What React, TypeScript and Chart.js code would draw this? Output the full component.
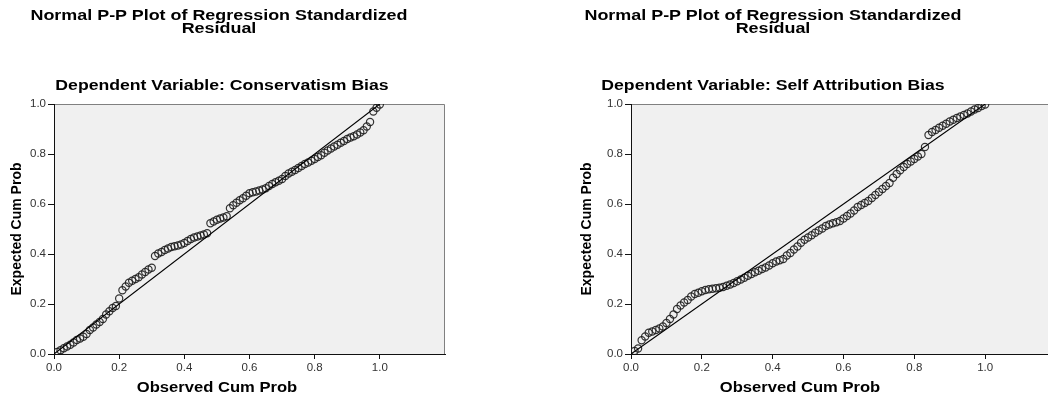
import React, { useEffect, useRef } from 'react';
import { Chart, registerables } from 'chart.js';

Chart.register(...registerables);

const mainTitle = ['Normal P-P Plot of Regression Standardized', 'Residual'];
const subtitleA = 'Dependent Variable: Conservatism Bias';
const subtitleB = 'Dependent Variable: Self Attribution Bias';
const xAxisTitle = 'Observed Cum Prob';
const yAxisTitle = 'Expected Cum Prob';

const xTicks = [0, 0.2, 0.4, 0.6, 0.8, 1.0];
const yTicks = [0, 0.2, 0.4, 0.6, 0.8, 1.0];
const xRange = [0, 1.2];
const yRange = [0, 1.0];
const diagonalX = [0, 1];
const diagonalY = [0, 1];

const observedA = [
  0.01, 0.02, 0.03, 0.04, 0.05, 0.06, 0.07, 0.08, 0.09, 0.10,
  0.11, 0.12, 0.13, 0.14, 0.15, 0.16, 0.17, 0.18, 0.19, 0.20,
  0.21, 0.22, 0.23, 0.24, 0.25, 0.26, 0.27, 0.28, 0.29, 0.30,
  0.31, 0.32, 0.33, 0.34, 0.35, 0.36, 0.37, 0.38, 0.39, 0.40,
  0.41, 0.42, 0.43, 0.44, 0.45, 0.46, 0.47, 0.48, 0.49, 0.50,
  0.51, 0.52, 0.53, 0.54, 0.55, 0.56, 0.57, 0.58, 0.59, 0.60,
  0.61, 0.62, 0.63, 0.64, 0.65, 0.66, 0.67, 0.68, 0.69, 0.70,
  0.71, 0.72, 0.73, 0.74, 0.75, 0.76, 0.77, 0.78, 0.79, 0.80,
  0.81, 0.82, 0.83, 0.84, 0.85, 0.86, 0.87, 0.88, 0.89, 0.90,
  0.91, 0.92, 0.93, 0.94, 0.95, 0.96, 0.97, 0.98, 0.99, 1.00,
];
const expectedA = [
  0.008, 0.015, 0.023, 0.030, 0.037, 0.046, 0.056, 0.062, 0.069, 0.080,
  0.096, 0.106, 0.118, 0.128, 0.140, 0.158, 0.171, 0.184, 0.192, 0.222,
  0.255, 0.270, 0.285, 0.293, 0.300, 0.307, 0.318, 0.328, 0.338, 0.345,
  0.392, 0.402, 0.408, 0.416, 0.422, 0.428, 0.431, 0.434, 0.438, 0.444,
  0.452, 0.460, 0.466, 0.470, 0.474, 0.478, 0.483, 0.523, 0.530, 0.537,
  0.542, 0.546, 0.551, 0.583, 0.595, 0.605, 0.615, 0.623, 0.633, 0.643,
  0.647, 0.650, 0.654, 0.658, 0.663, 0.672, 0.680, 0.687, 0.693, 0.700,
  0.712, 0.722, 0.729, 0.736, 0.744, 0.752, 0.760, 0.766, 0.773, 0.780,
  0.788, 0.795, 0.805, 0.814, 0.822, 0.830, 0.837, 0.845, 0.852, 0.860,
  0.866, 0.871, 0.878, 0.886, 0.895, 0.910, 0.928, 0.970, 0.985, 0.998,
];

const observedB = [
  0.01, 0.02, 0.03, 0.04, 0.05, 0.06, 0.07, 0.08, 0.09, 0.10,
  0.11, 0.12, 0.13, 0.14, 0.15, 0.16, 0.17, 0.18, 0.19, 0.20,
  0.21, 0.22, 0.23, 0.24, 0.25, 0.26, 0.27, 0.28, 0.29, 0.30,
  0.31, 0.32, 0.33, 0.34, 0.35, 0.36, 0.37, 0.38, 0.39, 0.40,
  0.41, 0.42, 0.43, 0.44, 0.45, 0.46, 0.47, 0.48, 0.49, 0.50,
  0.51, 0.52, 0.53, 0.54, 0.55, 0.56, 0.57, 0.58, 0.59, 0.60,
  0.61, 0.62, 0.63, 0.64, 0.65, 0.66, 0.67, 0.68, 0.69, 0.70,
  0.71, 0.72, 0.73, 0.74, 0.75, 0.76, 0.77, 0.78, 0.79, 0.80,
  0.81, 0.82, 0.83, 0.84, 0.85, 0.86, 0.87, 0.88, 0.89, 0.90,
  0.91, 0.92, 0.93, 0.94, 0.95, 0.96, 0.97, 0.98, 0.99, 1.00,
];
const expectedB = [
  0.012, 0.022, 0.055, 0.070, 0.085, 0.090, 0.096, 0.102, 0.110, 0.124,
  0.140, 0.158, 0.180, 0.194, 0.206, 0.216, 0.230, 0.240, 0.245, 0.251,
  0.256, 0.259, 0.261, 0.263, 0.265, 0.268, 0.273, 0.278, 0.284, 0.291,
  0.298, 0.305, 0.313, 0.320, 0.327, 0.333, 0.340, 0.346, 0.354, 0.363,
  0.370, 0.375, 0.380, 0.394, 0.404, 0.418, 0.430, 0.445, 0.457, 0.466,
  0.475, 0.485, 0.494, 0.502, 0.512, 0.518, 0.523, 0.527, 0.532, 0.542,
  0.552, 0.562, 0.574, 0.588, 0.596, 0.604, 0.612, 0.624, 0.636, 0.648,
  0.660, 0.672, 0.684, 0.705, 0.720, 0.735, 0.748, 0.760, 0.770, 0.780,
  0.790, 0.800, 0.828, 0.876, 0.888, 0.896, 0.905, 0.913, 0.921, 0.930,
  0.937, 0.944, 0.950, 0.956, 0.962, 0.970, 0.978, 0.984, 0.992, 0.998,
];

const FONT = "'Liberation Sans', Arial, Helvetica, sans-serif";

const framePlugin = {
  id: 'ppFrame',
  beforeDraw(chart: any) {
    const { ctx, chartArea } = chart;
    const { left, top, right, bottom } = chartArea;
    ctx.save();
    ctx.fillStyle = '#f0f0f0';
    ctx.fillRect(left, top, right - left, bottom - top);
    ctx.strokeStyle = '#808080';
    ctx.lineWidth = 1;
    ctx.beginPath();
    ctx.moveTo(left, Math.round(top) + 0.5);
    ctx.lineTo(Math.round(right) - 0.5, Math.round(top) + 0.5);
    ctx.lineTo(Math.round(right) - 0.5, bottom);
    ctx.stroke();
    ctx.restore();
  },
};

type PPProps = {
  observed: number[];
  expected: number[];
  canvasLeft: number;
  canvasWidth: number;
  padRight: number;
  yTitlePad: number;
};

function PPChart({ observed, expected, canvasLeft, canvasWidth, padRight, yTitlePad }: PPProps) {
  const ref = useRef<HTMLCanvasElement | null>(null);

  useEffect(() => {
    if (!ref.current) return;
    const points = observed.map((x, i) => ({ x, y: expected[i] }));
    const diag = diagonalX.map((x, i) => ({ x, y: diagonalY[i] }));
    const tickFont = { family: FONT, size: 11.5 };
    const chart = new Chart(ref.current, {
      type: 'scatter',
      data: {
        datasets: [
          {
            type: 'line',
            data: diag,
            borderColor: '#000000',
            borderWidth: 1.1,
            pointRadius: 0,
            fill: false,
          } as any,
          {
            type: 'scatter',
            data: points,
            pointStyle: 'circle',
            pointRadius: 3.6,
            borderWidth: 1.2,
            borderColor: 'rgba(30,30,30,0.9)',
            backgroundColor: 'rgba(0,0,0,0)',
          },
        ],
      },
      options: {
        responsive: false,
        animation: false,
        events: [],
        layout: { padding: { left: 0, right: padRight, top: 104, bottom: 0 } },
        plugins: {
          legend: { display: false },
          tooltip: { enabled: false },
          title: { display: false },
        },
        scales: {
          x: {
            type: 'linear',
            min: xRange[0],
            max: xRange[1],
            afterBuildTicks: (s: any) => {
              s.ticks = xTicks.map((v) => ({ value: v }));
            },
            afterFit: (s: any) => {
              s.height = 43;
            },
            ticks: {
              autoSkip: false,
              maxRotation: 0,
              padding: 2,
              color: '#333333',
              font: tickFont,
              callback: (v: any) => Number(v).toFixed(1),
            },
            grid: {
              drawOnChartArea: false,
              drawTicks: true,
              tickLength: 5,
              color: '#111111',
            },
            border: { display: true, color: '#111111', width: 1 },
            title: { display: false },
          },
          y: {
            type: 'linear',
            min: yRange[0],
            max: yRange[1],
            afterBuildTicks: (s: any) => {
              s.ticks = yTicks.map((v) => ({ value: v }));
            },
            afterFit: (s: any) => {
              s.width = 54;
            },
            ticks: {
              autoSkip: false,
              padding: 2,
              color: '#333333',
              font: tickFont,
              callback: (v: any) => Number(v).toFixed(1),
            },
            grid: {
              drawOnChartArea: false,
              drawTicks: true,
              tickLength: 6,
              color: '#111111',
            },
            border: { display: true, color: '#111111', width: 1 },
            title: {
              display: true,
              text: yAxisTitle,
              color: '#000000',
              font: { family: FONT, size: 14, weight: 'bold' },
              padding: { top: yTitlePad, bottom: 0 },
            },
          },
        },
      },
      plugins: [framePlugin],
    } as any);
    return () => chart.destroy();
  }, [observed, expected, padRight, yTitlePad]);

  return (
    <canvas
      ref={ref}
      width={canvasWidth}
      height={397}
      style={{ position: 'absolute', left: canvasLeft, top: 0, width: canvasWidth, height: 397, display: 'block' }}
    />
  );
}

function Label({ text, center, top, stretch }: { text: string[]; center: number; top: number; stretch: number }) {
  const w = 400;
  return (
    <div
      style={{
        position: 'absolute',
        left: center - w / 2,
        width: w,
        top,
        textAlign: 'center',
        fontFamily: FONT,
        fontWeight: 'bold',
        fontSize: 14,
        lineHeight: '13px',
        color: '#000',
        whiteSpace: 'nowrap',
        transform: `scaleX(${stretch})`,
        transformOrigin: '50% 50%',
      }}
    >
      {text.map((t, i) => (
        <div key={i}>{t}</div>
      ))}
    </div>
  );
}

export default function App() {
  return (
    <div
      style={{
        position: 'fixed',
        left: 0,
        top: 0,
        width: 1048,
        height: 397,
        overflow: 'hidden',
        background: '#ffffff',
      }}
    >
      <PPChart observed={observedA} expected={expectedA} canvasLeft={0} canvasWidth={460} padRight={15} yTitlePad={9} />
      <PPChart observed={observedB} expected={expectedB} canvasLeft={577} canvasWidth={500} padRight={21} yTitlePad={2} />
      <Label text={mainTitle} center={218.5} top={9} stretch={1.28} />
      <Label text={[subtitleA]} center={222} top={79} stretch={1.26} />
      <Label text={[xAxisTitle]} center={217} top={381} stretch={1.185} />
      <Label text={mainTitle} center={772.5} top={9} stretch={1.28} />
      <Label text={[subtitleB]} center={773} top={79} stretch={1.26} />
      <Label text={[xAxisTitle]} center={800} top={381} stretch={1.185} />
    </div>
  );
}
